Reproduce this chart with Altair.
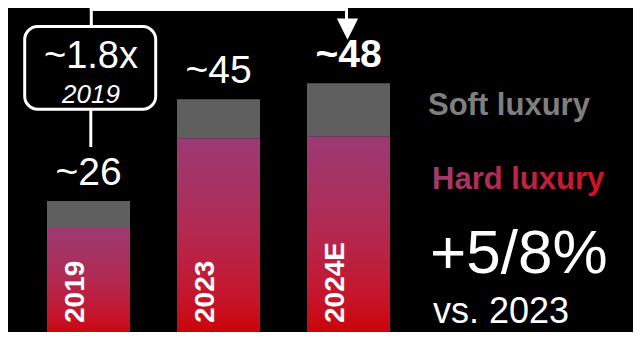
import altair as alt
import pandas as pd

# ---- data ----
years = ["2019", "2023", "2024E"]
hard_luxury = [21.1, 37.7, 38.1]
soft_luxury = [4.9, 7.3, 9.9]
total_labels = ["~26", "~45", "~48"]
highlight = [False, False, True]

multiple_label = "~1.8x"
multiple_base = "2019"
legend_soft = "Soft luxury"
legend_hard = "Hard luxury"
growth_label = "+5/8%"
growth_base = "vs. 2023"

df = pd.DataFrame({
    "year": years,
    "hard": hard_luxury,
    "soft": soft_luxury,
    "label": total_labels,
    "hl": highlight,
})
df["total"] = df["hard"] + df["soft"]

FONT = "Liberation Sans"
WHITE = "#ffffff"

xscale = alt.Scale(domain=years, range=[39, 382], paddingInner=0.3615, paddingOuter=0)
yscale = alt.Scale(domain=[1.495, 62.06], zero=False, nice=False)
X = alt.X("year:N", sort=years, axis=None, scale=xscale)

base = alt.Chart(df)

hard_grad = {
    "gradient": "linear", "x1": 0, "y1": 0, "x2": 0, "y2": 1,
    "stops": [
        {"offset": 0, "color": "#9b3a74"},
        {"offset": 0.45, "color": "#b22a52"},
        {"offset": 0.8, "color": "#c6142a"},
        {"offset": 1, "color": "#cc0000"},
    ],
}

hard_bars = base.mark_bar(fill=hard_grad, clip=True, strokeWidth=0).encode(
    x=X,
    y=alt.Y("hard:Q", scale=yscale, axis=None),
    y2=alt.datum(0),
)
soft_bars = base.mark_bar(color="#5f5f5f", clip=True, strokeWidth=0).encode(
    x=X,
    y=alt.Y("total:Q", scale=yscale, axis=None),
    y2="hard:Q",
)

year_labels = base.mark_text(
    angle=270, align="left", baseline="alphabetic", dx=17, dy=-4.5,
    fontSize=28, fontWeight="bold", color=WHITE, font=FONT,
).encode(x=X, y=alt.Y(datum=0, scale=yscale), text="year:N")

total_txt = base.transform_filter("!datum.hl").mark_text(
    align="center", baseline="alphabetic", dy=-16, fontSize=39, color=WHITE, font=FONT,
).encode(x=X, y=alt.Y("total:Q", scale=yscale), text="label:N")

total_txt_bold = base.transform_filter("datum.hl").mark_text(
    align="center", baseline="alphabetic", dy=-16, fontSize=39, fontWeight="bold",
    color=WHITE, font=FONT,
).encode(x=X, y=alt.Y("total:Q", scale=yscale), text="label:N")

first = base.transform_filter(alt.datum.year == years[0])
last = base.transform_filter(alt.datum.year == years[-1])

box = first.mark_bar(
    width=131, cornerRadius=13, fill="#000000", stroke=WHITE, strokeWidth=3, xOffset=1.7,
).encode(x=X, y=alt.Y(datum=43.14, scale=yscale), y2=alt.datum(58.6))

mult_txt = first.mark_text(
    align="center", baseline="alphabetic", fontSize=38, color=WHITE, font=FONT, dx=2.5,
).encode(x=X, y=alt.Y(datum=50.9, scale=yscale), text=alt.value(multiple_label))

mult_base = first.mark_text(
    align="center", baseline="alphabetic", fontSize=26, fontStyle="italic",
    color=WHITE, font=FONT, dx=2.5,
).encode(x=X, y=alt.Y(datum=44.24, scale=yscale), text=alt.value(multiple_base))

rule_low = first.mark_rule(color=WHITE, strokeWidth=3, xOffset=2.3).encode(
    x=X, y=alt.Y(datum=36.07, scale=yscale), y2=alt.datum(43.0))
rule_up = first.mark_rule(color=WHITE, strokeWidth=3, xOffset=2.8, strokeCap="square").encode(
    x=X, y=alt.Y(datum=58.88, scale=yscale), y2=alt.datum(61.78))
rule_h = first.mark_rule(color=WHITE, strokeWidth=3, xOffset=2.8, x2Offset=-2,
                         strokeCap="square").encode(
    x=X, x2=alt.datum(years[-1]), y=alt.Y(datum=61.78, scale=yscale))
rule_down = last.mark_rule(color=WHITE, strokeWidth=3, xOffset=-2, strokeCap="square").encode(
    x=X, y=alt.Y(datum=58.8, scale=yscale), y2=alt.datum(61.78))
arrow = last.mark_point(
    shape="M-1,-1L1,-1L0,1Z", size=450, filled=True, fill=WHITE, opacity=1,
    strokeWidth=0, xOffset=-1,
).encode(x=X, y=alt.Y(datum=58.1, scale=yscale))

hard_text_grad = {
    "gradient": "linear", "x1": 0, "y1": 0, "x2": 1, "y2": 0,
    "stops": [
        {"offset": 0, "color": "#a13b72"},
        {"offset": 1, "color": "#d5101d"},
    ],
}

legend_soft_t = first.mark_text(
    align="left", baseline="alphabetic", fontSize=31, fontWeight="bold",
    color="#7f7f7f", font=FONT,
).encode(x=alt.value(420), y=alt.value(107), text=alt.value(legend_soft))

legend_hard_t = first.mark_text(
    align="left", baseline="alphabetic", fontSize=31, fontWeight="bold",
    fill=hard_text_grad, font=FONT,
).encode(x=alt.value(424), y=alt.value(181), text=alt.value(legend_hard))

growth_t = first.mark_text(
    align="left", baseline="alphabetic", fontSize=62, color=WHITE, font=FONT,
).encode(x=alt.value(422), y=alt.value(265), text=alt.value(growth_label))

growth_base_t = first.mark_text(
    align="left", baseline="alphabetic", fontSize=36, color=WHITE, font=FONT,
).encode(x=alt.value(425), y=alt.value(315), text=alt.value(growth_base))

chart = alt.layer(
    hard_bars, soft_bars, year_labels, total_txt, total_txt_bold,
    rule_low, rule_up, rule_h, rule_down, arrow,
    box, mult_txt, mult_base,
    legend_soft_t, legend_hard_t, growth_t, growth_base_t,
).properties(
    width=625, height=324, padding=0, autosize="none", background="#000000",
).configure_view(strokeWidth=0)

chart.save("out.html", embed_options={"renderer": "svg", "actions": False})
